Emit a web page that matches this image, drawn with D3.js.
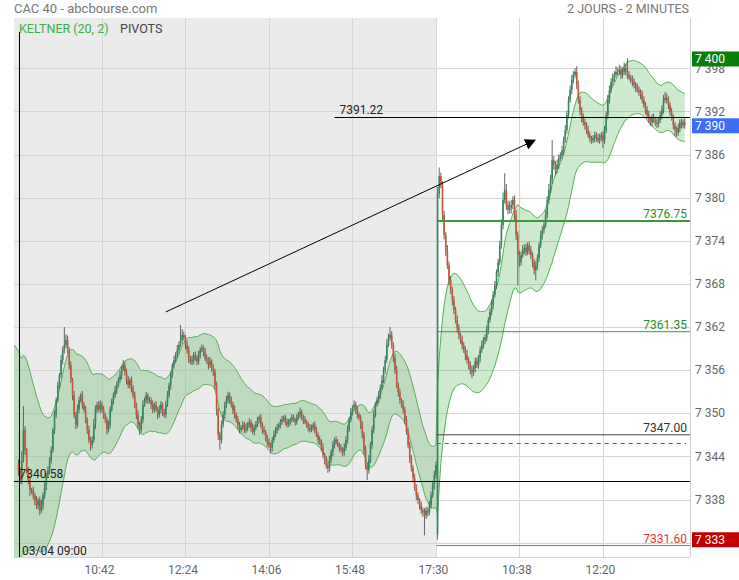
<!DOCTYPE html>
<html><head><meta charset="utf-8">
<script src="https://cdn.jsdelivr.net/npm/d3@7/dist/d3.min.js"></script>
<style>html,body{margin:0;padding:0;background:#fff}svg{display:block;font-family:Roboto,"Noto Sans",sans-serif}</style>
</head><body>
<svg id="chart" width="739" height="580"></svg>
<script>
// ---------- DATA ----------
const title = "CAC 40 - abcbourse.com";
const periodLabel = "2 JOURS - 2 MINUTES";
const legendItems = ["KELTNER (20, 2)", "PIVOTS"];

// 2-minute closes, day 1 (03/04 09:00 -> 17:30)
const day1Close = [
7342.1,7340.7,7343.5,7347.7,7344.9,7342.1,7340.7,7339.3,7339.3,7338.6,
7337.9,7337.2,7337.9,7336.5,7337.2,7338.6,7340.0,7341.4,7342.1,7343.5,
7344.9,7347.7,7349.8,7351.8,7353.9,7355.3,7357.4,7358.8,7359.5,7360.2,
7358.8,7356.7,7354.6,7352.5,7349.8,7348.4,7350.5,7351.8,7352.5,7351.2,
7350.5,7349.1,7347.7,7346.3,7345.6,7346.3,7348.4,7350.5,7351.2,7350.5,
7351.2,7350.5,7349.8,7349.1,7347.7,7348.4,7350.5,7351.8,7352.5,7353.2,
7353.9,7354.6,7355.3,7356.3,7356.7,7355.7,7354.6,7353.9,7354.6,7353.5,
7352.5,7351.2,7349.8,7348.4,7347.7,7349.1,7351.2,7351.8,7352.5,7351.8,
7351.8,7351.2,7350.5,7351.2,7350.5,7349.8,7350.5,7351.2,7350.2,7349.8,
7351.2,7352.5,7353.9,7355.3,7356.7,7357.4,7358.1,7358.8,7359.5,7360.2,
7360.9,7360.5,7359.5,7358.8,7357.7,7357.2,7357.4,7358.1,7357.7,7357.2,
7358.1,7358.8,7359.1,7358.5,7357.7,7357.4,7356.7,7357.2,7356.3,7355.8,
7353.9,7350.5,7347.0,7346.3,7348.4,7349.8,7351.2,7351.8,7352.5,7351.8,
7351.2,7350.5,7349.8,7349.1,7348.4,7347.7,7348.0,7348.4,7347.7,7348.0,
7348.4,7348.8,7348.0,7347.4,7348.0,7348.4,7349.1,7349.4,7348.4,7347.7,
7347.4,7346.6,7346.0,7345.6,7345.2,7346.3,7347.0,7347.7,7348.0,7348.4,
7348.8,7349.1,7349.4,7348.8,7348.4,7348.8,7349.1,7349.4,7349.1,7348.8,
7349.4,7349.8,7350.2,7349.4,7349.1,7348.8,7348.4,7348.0,7347.7,7348.0,
7348.4,7347.7,7347.0,7346.3,7346.0,7345.2,7344.2,7343.5,7342.8,7342.4,
7343.5,7344.6,7345.6,7346.3,7346.0,7345.6,7345.2,7344.9,7344.6,7345.2,
7346.3,7347.7,7349.1,7350.2,7350.8,7351.2,7350.5,7349.8,7349.4,7348.4,
7347.0,7344.9,7342.8,7342.1,7343.5,7345.6,7347.7,7349.8,7351.2,7351.8,
7352.5,7353.5,7354.6,7356.0,7357.4,7359.5,7360.5,7360.9,7359.5,7357.7,
7356.0,7353.9,7352.9,7351.8,7351.2,7350.5,7349.1,7347.4,7345.6,7343.7,
7342.4,7341.0,7339.6,7338.6,7337.9,7337.2,7336.5,7336.2,7335.8,7336.5,
7336.2,7337.2,7338.6,7340.0,7341.4,7342.8];

// 2-minute closes, day 2 (09:00 -> ~14:00)
const day2Close = [
7380.5,7383.0,7381.8,7377.6,7374.8,7372.7,7370.6,7368.5,7367.2,7365.8,
7364.4,7363.0,7361.9,7360.9,7360.2,7359.5,7358.8,7358.1,7357.4,7356.7,
7356.0,7355.7,7356.3,7357.2,7356.7,7357.7,7358.8,7359.5,7360.2,7360.5,
7361.6,7363.0,7364.1,7365.1,7366.5,7367.8,7369.6,7371.0,7373.4,7376.2,
7379.7,7381.1,7379.0,7378.3,7378.6,7379.0,7379.7,7377.6,7374.8,7372.0,
7371.0,7372.0,7372.7,7373.0,7372.4,7373.4,7372.7,7372.0,7371.0,7369.9,
7370.6,7371.6,7373.4,7374.8,7375.5,7376.2,7377.6,7379.7,7381.1,7382.5,
7385.2,7384.6,7383.9,7384.6,7385.5,7385.9,7386.6,7388.0,7389.4,7391.5,
7393.6,7395.0,7396.4,7397.1,7397.5,7395.7,7393.6,7392.2,7391.1,7390.5,
7390.1,7389.4,7388.7,7388.3,7388.0,7388.3,7388.7,7388.3,7388.0,7388.4,
7388.7,7388.0,7389.4,7391.5,7393.6,7395.0,7396.1,7396.7,7397.1,7397.5,
7397.5,7397.8,7397.1,7397.5,7398.0,7397.5,7397.1,7396.7,7396.4,7396.1,
7395.7,7395.3,7395.0,7394.7,7394.3,7393.6,7392.9,7392.2,7391.5,7390.8,
7390.5,7391.1,7390.8,7390.5,7390.3,7390.8,7391.5,7392.2,7393.6,7393.9,
7393.6,7392.9,7391.9,7391.1,7390.1,7389.4,7389.1,7389.7,7390.5,7390.1,7390.5,7390.1];

// session opening prices (day 1, day 2)
const sessionOpens = [7343.0, 7333.2];

// upper / lower wick length above / below the body, in tenths of a point
const upperWick = [
6,4,12,33,5,3,4,6,3,5, 4,6,3,5,8,4,6,3,5,4, 5,3,6,4,5,3,7,5,25,8, 6,4,5,3,6,4,7,5,3,6,
4,5,3,6,4,5,8,6,4,5, 6,4,5,3,4,6,5,3,4,6, 5,4,6,3,7,4,5,6,3,5, 4,5,3,6,4,5,6,4,5,3,
5,4,6,3,5,4,6,5,3,4, 5,6,4,5,3,6,4,7,5,21, 8,5,4,6,5,3,6,4,5,4, 6,4,5,3,6,5,4,6,3,5,
4,5,3,4,6,5,4,6,5,4, 5,4,6,3,5,4,3,5,4,6, 4,5,3,6,4,5,4,3,5,4, 5,3,4,5,3,4,6,4,5,3,
4,5,3,4,5,4,3,5,4,3, 5,4,6,3,4,5,3,4,5,4, 3,5,4,3,5,4,6,3,5,4, 6,4,5,3,5,4,3,5,4,6,
5,6,4,5,3,6,4,5,3,4, 5,4,6,3,7,4,5,6,4,5, 6,5,7,5,6,8,6,11,5,4, 5,6,4,5,3,6,4,5,6,4,
5,4,6,5,4,3,5,4,6,5, 4,6,5,4,6,5,
10,12,5,5,6,4,7,5,6,4, 5,4,6,5,3,6,4,5,7,4, 5,6,4,5,6,4,5,6,4,5, 6,4,5,7,5,6,4,5,6,8,
10,23,8,6,9,7,5,6,7,5, 6,5,7,5,6,4,5,6,4,5, 6,5,4,6,5,7,6,5,8,7, 28,6,5,7,5,4,6,5,7,6,
5,6,7,5,5,8,6,5,4,6, 5,4,6,5,3,4,5,4,6,5, 4,5,6,5,7,6,5,6,5,8, 6,7,5,6,8,6,19,5,4,6,
5,4,6,5,4,6,5,4,5,6, 4,5,6,4,5,3,5,6,7,8, 6,5,4,6,5,4,5,6,4,5,4,6];
const lowerWick = [
8,5,6,4,7,5,6,8,5,6, 7,5,6,7,4,6,5,7,4,6, 5,4,6,5,3,5,4,6,5,4, 5,6,4,7,5,6,4,5,3,6,
4,5,6,4,8,5,4,6,5,3, 5,4,6,5,7,4,5,3,6,4, 5,3,4,6,4,5,6,4,5,6, 4,5,6,5,7,4,5,3,4,5,
4,6,5,4,3,6,4,5,6,4, 5,3,4,6,4,5,3,4,5,3, 5,4,6,5,7,4,5,6,4,5, 4,5,3,6,4,5,6,4,5,6,
6,8,7,14,5,4,6,5,4,5, 4,6,5,4,6,5,4,3,5,4, 5,4,6,3,5,4,3,5,4,6, 4,5,6,4,8,5,4,3,5,4,
5,4,3,5,4,3,5,4,3,5, 4,3,5,4,6,3,4,5,4,3, 4,5,3,6,4,5,4,6,5,7, 5,4,6,5,4,3,5,4,6,5,
4,5,3,4,5,4,6,5,4,6, 5,7,6,14,5,4,6,5,4,3, 4,5,3,4,5,4,3,4,5,6, 5,4,6,5,4,5,6,4,5,6,
5,6,4,7,5,6,5,6,28,5, 6,4,5,4,6,5,
8,6,5,7,6,8,5,7,6,8, 6,5,7,6,5,6,4,7,5,6, 6,8,5,6,4,5,6,4,5,6, 5,6,4,5,6,4,5,6,4,5,
6,5,7,6,5,8,6,9,7,42, 6,5,4,6,5,4,6,5,7,6, 14,6,5,4,6,5,4,5,6,5, 6,7,8,5,6,4,5,6,4,5,
5,4,6,5,4,6,5,7,6,5, 6,5,4,6,5,4,6,5,4,5, 6,11,5,4,6,5,4,5,6,4, 5,4,6,5,4,5,6,4,5,6,
5,6,4,5,6,5,4,6,5,4, 5,6,4,5,6,5,4,6,5,4, 5,6,5,4,6,8,7,5,6,5,4,5];

// Keltner (20, 2): state carried in from the previous session
const keltnerPeriod = 20, keltnerMult = 2;
const keltnerSeed = {center: 7344.5, atr: 7.5, prevClose: 7343.0};

// axes
const yTickValues = [7332,7338,7344,7350,7356,7362,7368,7374,7380,7386,7392,7398];
const yTickLabelValues = [7338,7344,7350,7356,7362,7368,7374,7380,7386,7392,7398];
const xTickBars = [51,102,153,204,255,306,357];
const xTickLabels = ["10:42","12:24","14:06","15:48","17:30","10:38","12:20"];
const viewBars = [-2.75, 410.2];
const viewPrices = [7330, 7405];

// pivots (day 2)
const pivotValues = [7376.75, 7361.35, 7347.00, 7331.60];
const pivotLabels = ["7376.75", "7361.35", "7347.00", "7331.60"];
const dashedLevel = 7345.9;

// user drawings
const hLineValues = [7391.22, 7340.58];
const hLineStartBars = [193, -2.75];
const vLineBar = 0, vLineLabel = "03/04 09:00";
const trendFrom = [90, 7364.1], trendTo = [315.5, 7388.0];

// price boxes on the axis (day high, last, day low)
const boxLabels = ["7 400", "7 390", "7 333"];
const boxValues = [7399.3, 7390.0, 7332.4];

// ---------- CHART ----------
const svg = d3.select("#chart");
const P = {left:14, right:690, top:18, bottom:557};
const x = d3.scaleLinear().domain(viewBars).range([P.left, P.right]);
const y = d3.scaleLinear().domain(viewPrices).range([P.bottom, P.top]);
const day2Start = day1Close.length;
const closes = day1Close.concat(day2Close);
const bars = closes.map((c, i) => {
  const o = i === 0 ? sessionOpens[0] : (i === day2Start ? sessionOpens[1] : closes[i-1]);
  return {i, o, c, h: Math.max(o, c) + upperWick[i]/10, l: Math.min(o, c) - lowerWick[i]/10};
});

// Keltner: EMA center, Wilder ATR
let ema = keltnerSeed.center, atr = keltnerSeed.atr, pc = keltnerSeed.prevClose;
const kA = 2/(keltnerPeriod+1), kW = 1/keltnerPeriod;
const band = [{i: viewBars[0], up: ema + keltnerMult*atr, lo: ema - keltnerMult*atr}];
bars.forEach(b => {
  const tr = Math.max(b.h, pc) - Math.min(b.l, pc);
  atr = atr + kW*(tr - atr);
  ema = ema + kA*(b.c - ema);
  pc = b.c;
  band.push({i: b.i, up: ema + keltnerMult*atr, lo: ema - keltnerMult*atr});
});

svg.append("defs").html(`
 <clipPath id="clip"><rect x="${P.left}" y="${P.top}" width="${P.right-P.left}" height="${P.bottom-P.top}"/></clipPath>
 <marker id="arr" viewBox="0 0 10 10" refX="9" refY="5" markerWidth="11" markerHeight="11" markerUnits="userSpaceOnUse" orient="auto">
   <path d="M0,0 L10,5 L0,10 z" fill="#000"/></marker>`);

// backgrounds
svg.append("rect").attr("x",0).attr("y",0).attr("width",739).attr("height",580).attr("fill","#fff");
svg.append("rect").attr("x",P.left).attr("y",P.top).attr("width",x(day2Start-0.5)-P.left).attr("height",P.bottom-P.top).attr("fill","#ebebeb");

// grid
const grid = svg.append("g");
grid.selectAll("line.h").data(yTickValues).join("line")
  .attr("x1",P.left).attr("x2",P.right).attr("y1",d=>Math.round(y(d))+0.5).attr("y2",d=>Math.round(y(d))+0.5)
  .attr("stroke","#d6d6d6");
grid.selectAll("line.v").data(xTickBars).join("line")
  .attr("y1",P.top).attr("y2",P.bottom).attr("x1",d=>Math.round(x(d))+0.5).attr("x2",d=>Math.round(x(d))+0.5)
  .attr("stroke","#d6d6d6");
svg.append("line").attr("x1",P.right+0.5).attr("x2",P.right+0.5).attr("y1",P.top).attr("y2",P.bottom).attr("stroke","#d0d0d0");
svg.append("line").attr("x1",P.left).attr("x2",P.right).attr("y1",P.bottom+0.5).attr("y2",P.bottom+0.5).attr("stroke","#d0d0d0");

const g = svg.append("g").attr("clip-path","url(#clip)");
// keltner band
g.append("path").datum(band).attr("fill","rgba(76,175,80,0.28)")
  .attr("d", d3.area().x(d=>x(d.i)).y0(d=>y(d.lo)).y1(d=>y(d.up)));
g.append("path").datum(band).attr("fill","none").attr("stroke","#55b055").attr("stroke-width",1)
  .attr("d", d3.line().x(d=>x(d.i)).y(d=>y(d.up)));
g.append("path").datum(band).attr("fill","none").attr("stroke","#55b055").attr("stroke-width",1)
  .attr("d", d3.line().x(d=>x(d.i)).y(d=>y(d.lo)));

// candles
const cg = g.append("g");
cg.selectAll("line").data(bars).join("line")
  .attr("x1",d=>x(d.i)).attr("x2",d=>x(d.i)).attr("y1",d=>y(d.h)).attr("y2",d=>y(d.l))
  .attr("stroke","#555").attr("stroke-width",0.9);
cg.selectAll("rect").data(bars).join("rect")
  .attr("x",d=>x(d.i)-0.8).attr("width",1.6)
  .attr("y",d=>y(Math.max(d.o,d.c))).attr("height",d=>Math.max(0.8, Math.abs(y(d.o)-y(d.c))))
  .attr("fill",d=>d.c>=d.o ? "#2f8a5c" : "#cc5333");

// pivots
const pivotColors = ["#3a9a3a","#3a9a3a","#444","#f04848"];
const pivotText = ["#2e8b2e","#2e8b2e","#333","#e8302f"];
const pivotWidths = [2,1,1,1];
const xP0 = x(day2Start-0.5);
pivotValues.forEach((v,k)=>{
  svg.append("line").attr("x1",xP0).attr("x2",P.right).attr("y1",y(v)).attr("y2",y(v))
    .attr("stroke",pivotColors[k]).attr("stroke-width",pivotWidths[k]);
  svg.append("text").attr("x",P.right-3).attr("y",y(v)-3).attr("text-anchor","end")
    .attr("font-size",12).attr("fill",pivotText[k]).text(pivotLabels[k]);
});
svg.append("line").attr("x1",xP0).attr("x2",P.right-4).attr("y1",Math.round(y(dashedLevel))+0.5).attr("y2",Math.round(y(dashedLevel))+0.5)
  .attr("stroke","#e02a2a").attr("stroke-dasharray","4,4");

// horizontal drawings
hLineValues.forEach((v,k)=>{
  svg.append("line").attr("x1",x(hLineStartBars[k])).attr("x2",P.right).attr("y1",Math.round(y(v))+0.5).attr("y2",Math.round(y(v))+0.5)
    .attr("stroke","#000").attr("stroke-width",1);
  svg.append("text").attr("x",Math.max(x(hLineStartBars[k])+5, x(vLineBar)+1)).attr("y",y(v)-3)
    .attr("font-size",12).attr("fill","#222").text(v.toFixed(2));
});
// vertical drawing
svg.append("line").attr("x1",Math.round(x(vLineBar))+0.5).attr("x2",Math.round(x(vLineBar))+0.5).attr("y1",32).attr("y2",P.bottom)
  .attr("stroke","#000");
svg.append("text").attr("x",x(vLineBar)+3.5).attr("y",P.bottom-2).attr("font-size",12).attr("fill","#222").text(vLineLabel);
// trend arrow
svg.append("line").attr("x1",x(trendFrom[0])).attr("y1",y(trendFrom[1])).attr("x2",x(trendTo[0])).attr("y2",y(trendTo[1]))
  .attr("stroke","#000").attr("stroke-width",1).attr("marker-end","url(#arr)");

// axes
const fmt = d3.formatLocale({decimal:",", thousands:" ", grouping:[3], currency:["","€"]}).format(",");
svg.append("g").selectAll("text").data(yTickLabelValues).join("text")
  .attr("x",P.right+5).attr("y",d=>y(d)).attr("dy","0.35em").attr("font-size",12).attr("fill","#666").text(d=>fmt(d));
svg.append("g").selectAll("text").data(xTickBars).join("text")
  .attr("x",d=>x(d)-2.5).attr("y",574).attr("text-anchor","middle").attr("font-size",12).attr("fill","#666")
  .text((d,k)=>xTickLabels[k]);

const boxColors = ["#087f08","#3b6ef3","#c40000"];
boxValues.forEach((v,k)=>{
  svg.append("rect").attr("x",P.right+2).attr("y",y(v)-7.5).attr("width",739-P.right-2).attr("height",15).attr("fill",boxColors[k]);
  svg.append("text").attr("x",P.right+5).attr("y",y(v)).attr("dy","0.35em").attr("font-size",12).attr("fill","#fff").text(boxLabels[k]);
});

// header & legend
svg.append("text").attr("x",14).attr("y",13).attr("font-size",13).attr("fill","#777").text(title);
svg.append("text").attr("x",689).attr("y",13).attr("text-anchor","end").attr("font-size",12.5).attr("fill","#777").text(periodLabel);
svg.append("text").attr("x",19).attr("y",33).attr("font-size",12.5).attr("fill","#3cb043").text(legendItems[0]);
svg.append("text").attr("x",120).attr("y",33).attr("font-size",12.5).attr("fill","#444").text(legendItems[1]);
</script>
</body></html>
